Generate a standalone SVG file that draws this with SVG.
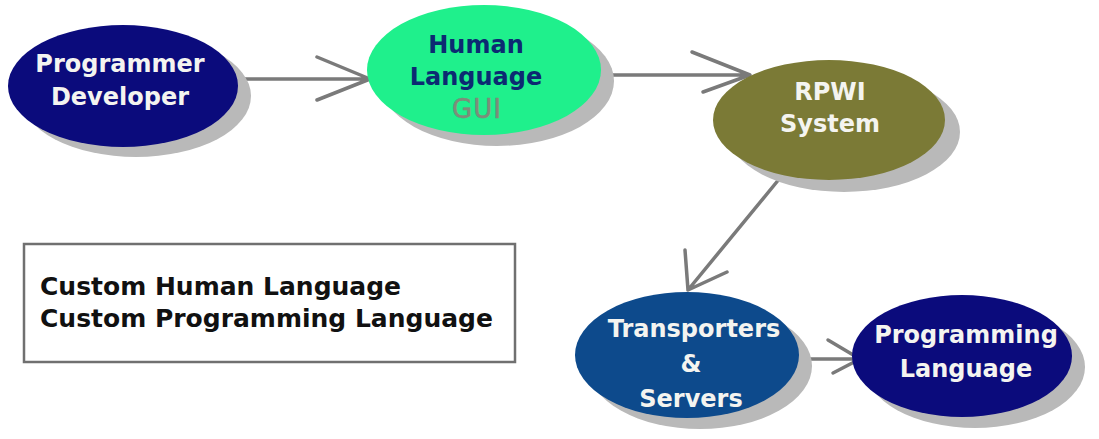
<svg xmlns="http://www.w3.org/2000/svg" width="1099" height="439" viewBox="0 0 1099 439">
<defs>
<style>
.sh{fill:#b9b9b9}
.t{font-family:"DejaVu Sans",Verdana,sans-serif;font-weight:bold;font-size:24px;text-anchor:middle}
.w{fill:#f4f4f0}
.edge{stroke:#7a7a7a;stroke-width:3.5;fill:none;stroke-linecap:round;stroke-linejoin:round}
</style>
</defs>
<rect width="1099" height="439" fill="#ffffff"/>
<g id="connectors">
<path class="edge" d="M238 79 L370 79 M317 57 L370 79 L317 100"/>
<path class="edge" d="M600 75 L750 75 M692 52 L750 75 L703 92"/>
<path class="edge" d="M780 178 L688 290 M685 250 L688 290 L727 272"/>
<path class="edge" d="M798 359 L860 359 M828 340 L860 359 L833 373"/>
</g>
<g id="node-programmer">
<ellipse class="sh" cx="136" cy="96" rx="115" ry="61"/>
<ellipse cx="123" cy="86" rx="115" ry="61" fill="#0b0b7c"/>
<text class="t w" x="120" y="72">Programmer</text>
<text class="t w" x="120" y="105">Developer</text>
</g>
<g id="node-human">
<ellipse class="sh" cx="497" cy="81" rx="117" ry="65"/>
<ellipse cx="484" cy="70" rx="117" ry="65" fill="#1ff08c"/>
<text class="t" x="476" y="53" fill="#0c2a72">Human</text>
<text class="t" x="476" y="85" fill="#0c2a72">Language</text>
<text x="477" y="118" font-family="'DejaVu Sans',Verdana,sans-serif" font-size="26" letter-spacing="1" text-anchor="middle" fill="#7e8c7a" stroke="#7e8c7a" stroke-width="0.6">GUI</text>
</g>
<g id="node-rpwi">
<ellipse class="sh" cx="844" cy="132" rx="116" ry="60"/>
<ellipse cx="829" cy="120" rx="116" ry="60" fill="#7b7a36"/>
<text class="t w" x="830" y="100">RPWI</text>
<text class="t w" x="830" y="132">System</text>
</g>
<g id="node-transporters">
<ellipse class="sh" cx="700" cy="366" rx="112" ry="63"/>
<ellipse cx="687" cy="355" rx="112" ry="63" fill="#0d4a8c"/>
<text class="t w" x="694" y="337">Transporters</text>
<text class="t w" x="691" y="372">&amp;</text>
<text class="t w" x="691" y="407">Servers</text>
</g>
<g id="node-programming">
<ellipse class="sh" cx="975" cy="367" rx="110" ry="61"/>
<ellipse cx="962" cy="356" rx="110" ry="61" fill="#0b0b7c"/>
<text class="t w" x="966" y="343">Programming</text>
<text class="t w" x="966" y="377">Language</text>
</g>
<g id="legend">
<rect x="24" y="244" width="491" height="118" fill="#ffffff" stroke="#707070" stroke-width="2.5"/>
<text x="40" y="295" font-family="'DejaVu Sans',Verdana,sans-serif" font-weight="bold" font-size="25" fill="#111111">Custom Human Language</text>
<text x="40" y="327" font-family="'DejaVu Sans',Verdana,sans-serif" font-weight="bold" font-size="25" fill="#111111">Custom Programming Language</text>
</g>
</svg>
